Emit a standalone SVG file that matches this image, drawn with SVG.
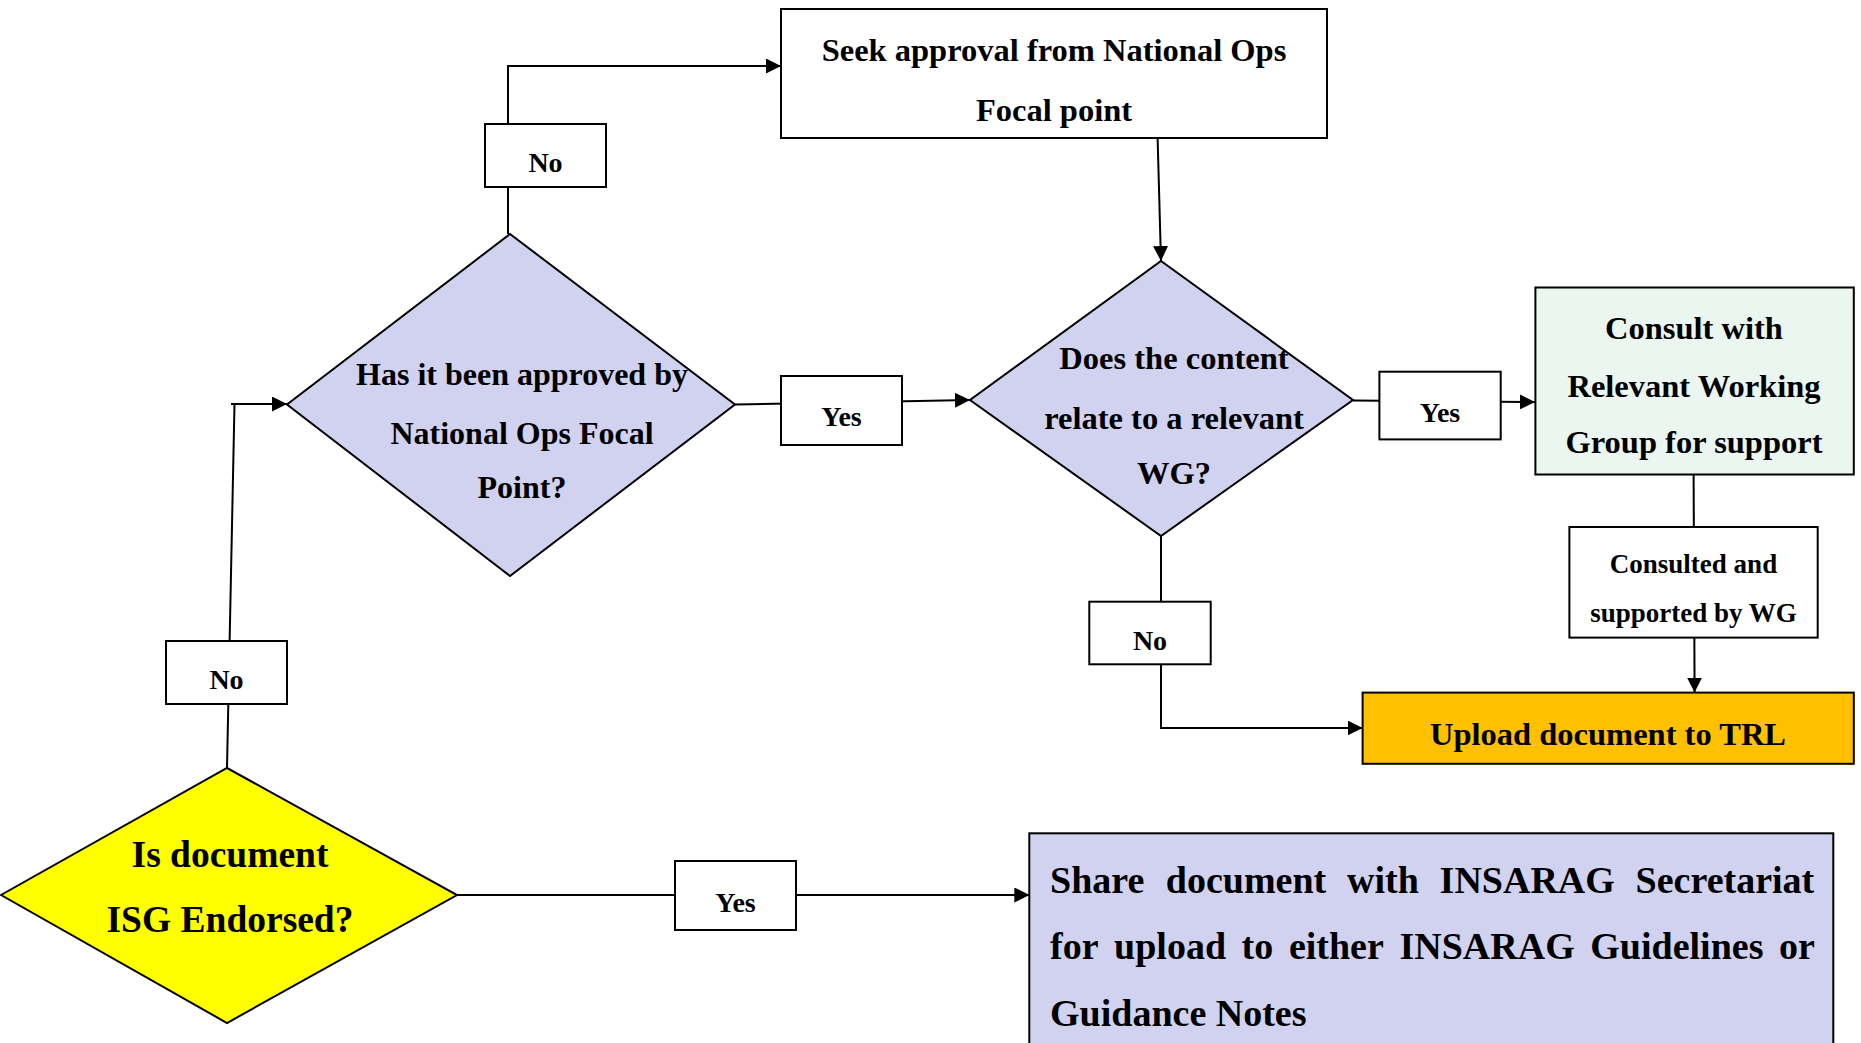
<svg xmlns="http://www.w3.org/2000/svg" width="1861" height="1043" viewBox="0 0 1861 1043">
<style>
.t{font-family:"Liberation Serif","Times New Roman",serif;font-weight:bold;fill:#000;text-anchor:middle}
.lbl{font-size:28px}
.m{font-size:32.5px}
.shape{stroke:#000;stroke-width:2}
.box{fill:#fff;stroke:#000;stroke-width:2}
.lav{fill:#D1D2EF}
.conn{fill:none;stroke:#000;stroke-width:2}
</style>
<defs>
<marker id="arr" markerUnits="userSpaceOnUse" viewBox="0 0 15 15" markerWidth="15" markerHeight="15" refX="15" refY="7.5" orient="auto">
<path d="M0,0 L15,7.5 L0,15 z" fill="#000"/>
</marker>
</defs>
<rect width="1861" height="1043" fill="#fff"/>
<g id="connectors">
<path class="conn" d="M508,234 V66 H781" marker-end="url(#arr)"/>
<path class="conn" d="M1157.6,138 L1161,261" marker-end="url(#arr)"/>
<path class="conn" d="M735,404.5 L970,400" marker-end="url(#arr)"/>
<path class="conn" d="M1353,400.5 L1535,402" marker-end="url(#arr)"/>
<path class="conn" d="M1161,536 V728 H1362.6" marker-end="url(#arr)"/>
<path class="conn" d="M1693.6,475 L1694.6,692.6" marker-end="url(#arr)"/>
<path class="conn" d="M227,768 L234.5,404 M231,404 H287" marker-end="url(#arr)"/>
<path class="conn" d="M457,895 H1029.3" marker-end="url(#arr)"/>
</g>
<g id="seek-approval">
<rect class="box" x="781" y="9" width="546" height="129"/>
<text class="t m" x="1054" y="61">Seek approval from National Ops</text>
<text class="t m" x="1054" y="120.5">Focal point</text>
</g>
<g id="approved-decision">
<polygon class="shape lav" points="510,234 735,404.5 510,576 287,404.5"/>
<text class="t" font-size="32" x="522" y="385">Has it been approved by</text>
<text class="t" font-size="32" x="522" y="444">National Ops Focal</text>
<text class="t" font-size="32" x="522" y="497.5">Point?</text>
</g>
<g id="wg-decision">
<polygon class="shape lav" points="1161,261 1353,400 1161,536 970,400"/>
<text class="t m" x="1174" y="369">Does the content</text>
<text class="t m" x="1174" y="428.6">relate to a relevant</text>
<text class="t m" x="1174" y="484">WG?</text>
</g>
<g id="consult-wg">
<rect class="shape" fill="#ECF6F0" x="1535.4" y="287.5" width="318.4" height="187"/>
<text class="t m" x="1694" y="339.4">Consult with</text>
<text class="t m" x="1694" y="397">Relevant Working</text>
<text class="t m" x="1694" y="453.4">Group for support</text>
</g>
<g id="upload-trl">
<rect class="shape" fill="#FFC000" x="1362.6" y="692.6" width="491.2" height="71.2"/>
<text class="t m" x="1608" y="745.3">Upload document to TRL</text>
</g>
<g id="isg-decision">
<polygon class="shape" fill="#FFFF00" points="227,768 457,895 227,1023 1,895"/>
<text class="t" font-size="37.5" x="230" y="866.8">Is document</text>
<text class="t" font-size="37.5" x="230" y="932">ISG Endorsed?</text>
</g>
<g id="share-secretariat">
<rect class="shape lav" x="1029.3" y="833.3" width="804" height="222"/>
<text class="t" font-size="38" style="text-anchor:start" y="893.3"><tspan x="1050">Share</tspan><tspan x="1165.8">document</tspan><tspan x="1347">with</tspan><tspan x="1439.6">INSARAG</tspan><tspan x="1635.6">Secretariat</tspan></text>
<text class="t" font-size="38" style="text-anchor:start" y="959.3"><tspan x="1050">for</tspan><tspan x="1114.1">upload</tspan><tspan x="1241.6">to</tspan><tspan x="1288.9">either</tspan><tspan x="1399.5">INSARAG</tspan><tspan x="1590.3">Guidelines</tspan><tspan x="1779.1">or</tspan></text>
<text class="t" font-size="38" style="text-anchor:start" x="1050" y="1026">Guidance Notes</text>
</g>
<g id="label-no-approval">
<rect class="box" x="485" y="124" width="121" height="63"/>
<text class="t lbl" x="545.5" y="172">No</text>
</g>
<g id="label-yes-approved">
<rect class="box" x="781" y="376" width="121" height="69"/>
<text class="t lbl" x="841.5" y="425.6">Yes</text>
</g>
<g id="label-yes-wg">
<rect class="box" x="1379.4" y="371.7" width="121.3" height="67.7"/>
<text class="t lbl" x="1440" y="422">Yes</text>
</g>
<g id="label-no-wg">
<rect class="box" x="1089.3" y="601.7" width="121.4" height="62.6"/>
<text class="t lbl" x="1150" y="650">No</text>
</g>
<g id="label-consulted">
<rect class="box" x="1569.4" y="527" width="248.3" height="110.6"/>
<text class="t" font-size="27" x="1693.5" y="573.4">Consulted and</text>
<text class="t" font-size="27" x="1693.5" y="621.8">supported by WG</text>
</g>
<g id="label-no-isg">
<rect class="box" x="166" y="641" width="121" height="63"/>
<text class="t lbl" x="226.5" y="689">No</text>
</g>
<g id="label-yes-isg">
<rect class="box" x="675" y="861" width="121" height="69"/>
<text class="t lbl" x="735.5" y="912">Yes</text>
</g>
</svg>
